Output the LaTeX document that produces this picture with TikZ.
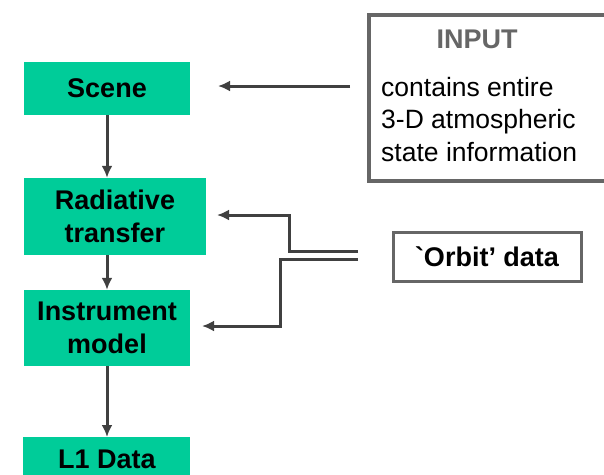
\documentclass[tikz,border=0pt]{standalone}
\usepackage{fontspec}
\setmainfont{Liberation Sans}
\usetikzlibrary{arrows.meta}
\definecolor{boxgreen}{HTML}{00CC99}
\definecolor{linegray}{HTML}{404040}
\definecolor{framegray}{HTML}{666666}
\begin{document}
\begin{tikzpicture}[x=1pt,y=-1pt,
  bigfont/.style={font=\fontsize{27}{33}\selectfont\bfseries},
  gbox/.style={fill=boxgreen,draw=none,inner sep=0pt,align=center,bigfont},
  conn/.style={draw=linegray,line width=3pt,-{Latex[length=12pt,width=11pt]}}]
\useasboundingbox (0,0) rectangle (604,474);
\node[gbox,minimum width=166pt,minimum height=53pt] (scene) at (107,88.5) {Scene};
\node[gbox,minimum width=182pt,minimum height=77pt] (rad) at (115,216.5) {Radiative\\transfer};
\node[gbox,minimum width=166pt,minimum height=76pt] (inst) at (107,328) {Instrument\\model};
\node[gbox,minimum width=167pt,minimum height=50pt,anchor=north west] (l1) at (23,437) {};
\node[bigfont,inner sep=0pt] (l1t) at (107,459.5) {L1 Data};
\node[draw=framegray,line width=3.5pt,minimum width=240pt,minimum height=166pt,anchor=north west] (input) at (367,13) {};
\node[bigfont,text=framegray] (inputt) at (477,39) {INPUT};
\node[font=\fontsize{26.5}{32.5}\selectfont,align=left,anchor=north west,inner sep=0pt] (inputb) at (381,77) {contains entire\\3-D atmospheric\\state information};
\node[draw=framegray,line width=3pt,minimum width=188pt,minimum height=49pt,bigfont] (orbit) at (487,256.5) {\textasciigrave Orbit’ data};
\coordinate (sceneIn) at (218,86);
\coordinate (inFrom) at (350,86);
\coordinate (o1) at (358,251);
\coordinate (o2) at (358,259);
\coordinate (radIn) at (217,215);
\coordinate (instIn) at (202,326);
\draw[conn] (scene.south) -- (scene.south |- rad.north);
\draw[conn] (inst.north |- rad.south) -- (inst.north);
\draw[conn] (inst.south) -- (inst.south |- l1.north);
\draw[conn] (inFrom) -- (sceneIn);
\draw[conn] (o1) -- (289,251) -- (289,215) -- (radIn);
\draw[conn] (o2) -- (280,259) -- (280,326) -- (instIn);
\end{tikzpicture}
\end{document}
